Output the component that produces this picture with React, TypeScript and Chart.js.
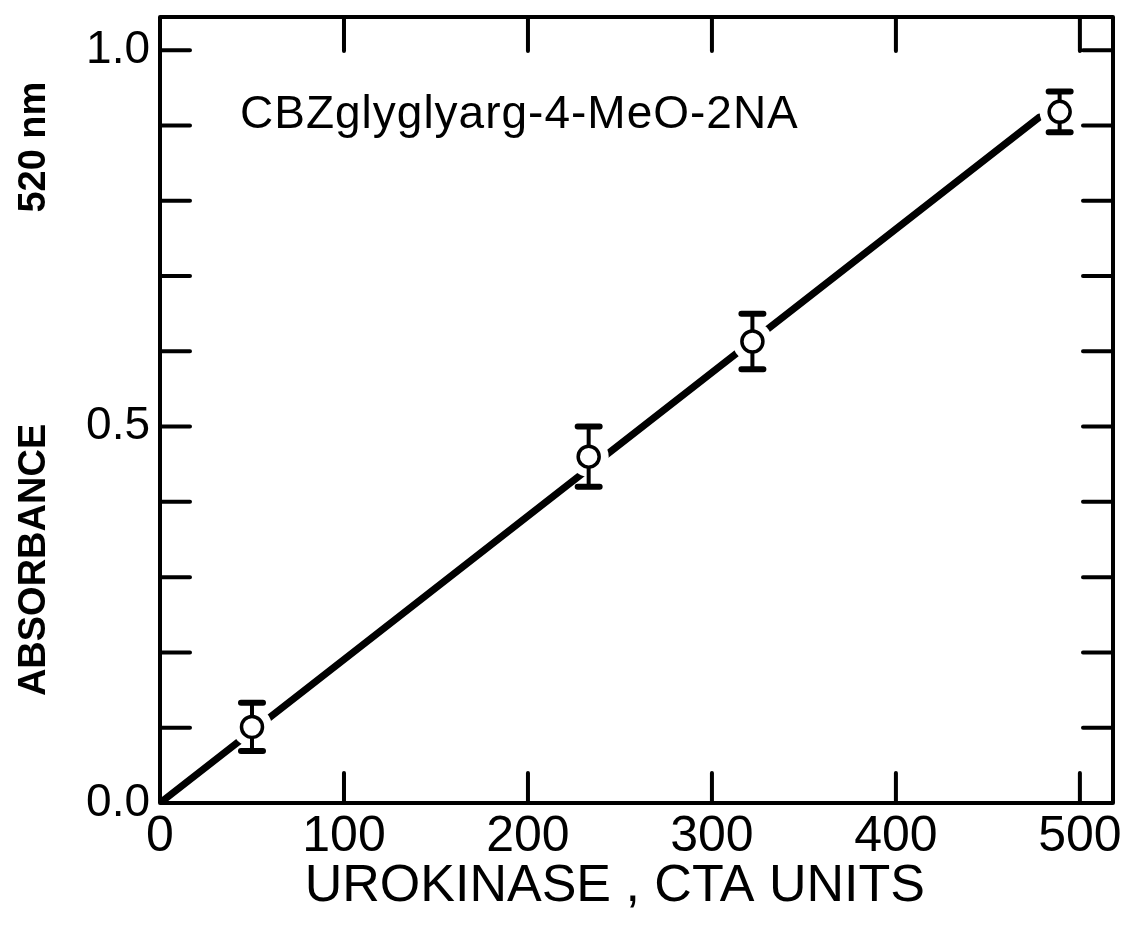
import { useEffect, useRef } from "react";
import { Chart, registerables } from "chart.js";

Chart.register(...registerables);

// ---- data ----
const unitsX = [50, 233, 322, 489];
const absorbance = [0.101, 0.46, 0.613, 0.918];
const absorbanceErr = [0.032, 0.04, 0.037, 0.027];
const fitX = [0, 478];
const fitY = [0, 0.911];
const xTickValues = [0, 100, 200, 300, 400, 500];
const yTickValues = [0, 0.1, 0.2, 0.3, 0.4, 0.5, 0.6, 0.7, 0.8, 0.9, 1.0];
const yLabeledTicks = [0, 0.5, 1.0];
const xMin = 0;
const xMax = 518;
const yMin = 0;
const yMax = 1.044;
const annotationText = "CBZglyglyarg-4-MeO-2NA";
const xTitle = "UROKINASE , CTA UNITS   ";
const yTitle = "    ABSORBANCE                    520 nm";

const FONT = "'Liberation Sans', Arial, sans-serif";

export default function App() {
  const ref = useRef<HTMLCanvasElement>(null);

  useEffect(() => {
    document.body.style.margin = "0";
    const canvas = ref.current!;

    const framePlugin = {
      id: "frameTicks",
      afterDatasetDraw(chart: any, args: any) {
        if (args.index !== 1) return;
        const { ctx, scales } = chart;
        const xs = scales.x, ys = scales.y;
        ctx.save();
        ctx.strokeStyle = "#000";
        ctx.lineCap = "round";
        for (let i = 0; i < unitsX.length; i++) {
          const px = xs.getPixelForValue(unitsX[i]);
          const top = ys.getPixelForValue(absorbance[i] + absorbanceErr[i]);
          const bot = ys.getPixelForValue(absorbance[i] - absorbanceErr[i]);
          ctx.lineWidth = 4;
          ctx.beginPath();
          ctx.moveTo(px, top);
          ctx.lineTo(px, bot);
          ctx.stroke();
          ctx.lineWidth = 6;
          ctx.beginPath();
          ctx.moveTo(px - 11, top);
          ctx.lineTo(px + 11, top);
          ctx.moveTo(px - 11, bot);
          ctx.lineTo(px + 11, bot);
          ctx.stroke();
        }
        ctx.restore();
      },
      afterDraw(chart: any) {
        const { ctx, chartArea: a, scales } = chart;
        const xs = scales.x, ys = scales.y;
        ctx.save();
        ctx.strokeStyle = "#000";
        ctx.lineWidth = 4;
        ctx.lineJoin = "round";
        ctx.strokeRect(a.left, a.top, a.right - a.left, a.bottom - a.top);
        ctx.lineCap = "round";
        ctx.lineWidth = 4;
        ctx.beginPath();
        for (const v of xTickValues) {
          if (v === xMin) continue;
          const px = xs.getPixelForValue(v);
          ctx.moveTo(px, a.bottom);
          ctx.lineTo(px, a.bottom - 30);
          ctx.moveTo(px, a.top);
          ctx.lineTo(px, a.top + 34);
        }
        for (const v of yTickValues) {
          if (v === yMin) continue;
          const py = ys.getPixelForValue(v);
          ctx.moveTo(a.left, py);
          ctx.lineTo(a.left + 30, py);
          ctx.moveTo(a.right, py);
          ctx.lineTo(a.right - 30, py);
        }
        ctx.stroke();
        ctx.fillStyle = "#000";
        ctx.font = `46px ${FONT}`;
        ctx.textAlign = "left";
        ctx.textBaseline = "alphabetic";
        try { (ctx as any).letterSpacing = "1px"; } catch (e) {}
        ctx.fillText(annotationText, a.left + 80, 128);
        ctx.restore();
      },
    };

    const chart = new Chart(canvas, {
      type: "scatter",
      data: {
        datasets: [
          {
            label: "fit",
            data: fitX.map((x, i) => ({ x, y: fitY[i] })),
            showLine: true,
            borderColor: "#000",
            borderWidth: 7,
            borderCapStyle: "round",
            pointRadius: 0,
            order: 3,
          } as any,
          {
            label: "halo",
            data: unitsX.map((x, i) => ({ x, y: absorbance[i] })),
            pointRadius: 20,
            pointBackgroundColor: "#fff",
            pointBorderColor: "#fff",
            pointBorderWidth: 0,
            order: 2,
          },
          {
            label: "Absorbance",
            data: unitsX.map((x, i) => ({ x, y: absorbance[i] })),
            pointRadius: 10.5,
            pointBackgroundColor: "#fff",
            pointBorderColor: "#000",
            pointBorderWidth: 3.5,
            order: 1,
          },
        ],
      },
      options: {
        responsive: false,
        animation: false,
        devicePixelRatio: 1,
        layout: { autoPadding: false, padding: { top: 17, right: 14, left: 0, bottom: 0 } },
        plugins: { legend: { display: false }, tooltip: { enabled: false } },
        scales: {
          x: {
            type: "linear",
            min: xMin,
            max: xMax,
            afterBuildTicks: (s: any) => {
              s.ticks = xTickValues.map((v) => ({ value: v }));
            },
            afterFit: (s: any) => {
              s.height = 124;
              s.paddingLeft = 0;
              s.paddingRight = 0;
            },
            grid: { display: false, drawTicks: false },
            border: { display: false },
            ticks: {
              color: "#000",
              font: { family: FONT, size: 50 },
              padding: 4,
              maxRotation: 0,
              autoSkip: false,
              callback: (v: any) => String(v),
            },
            title: {
              display: true,
              text: xTitle,
              color: "#000",
              font: { family: FONT, size: 52 },
              padding: { top: 0, bottom: 9 },
            },
          },
          y: {
            type: "linear",
            min: yMin,
            max: yMax,
            afterBuildTicks: (s: any) => {
              s.ticks = yTickValues.map((v) => ({ value: v }));
            },
            afterFit: (s: any) => {
              s.width = 160;
              s.paddingTop = 0;
              s.paddingBottom = 0;
            },
            grid: { display: false, drawTicks: false },
            border: { display: false },
            ticks: {
              color: "#000",
              font: { family: FONT, size: 46 },
              padding: 10,
              autoSkip: false,
              callback: (v: any) => (yLabeledTicks.includes(v) ? Number(v).toFixed(1) : ""),
            },
            title: {
              display: true,
              text: yTitle,
              color: "#000",
              font: { family: FONT, size: 38, weight: "bold" },
              padding: { top: 12, bottom: 0 },
            },
          },
        },
      },
      plugins: [framePlugin],
    });

    return () => chart.destroy();
  }, []);

  return (
    <div style={{ width: 1127, height: 927, background: "#fff" }}>
      <canvas ref={ref} width={1127} height={927} />
    </div>
  );
}
